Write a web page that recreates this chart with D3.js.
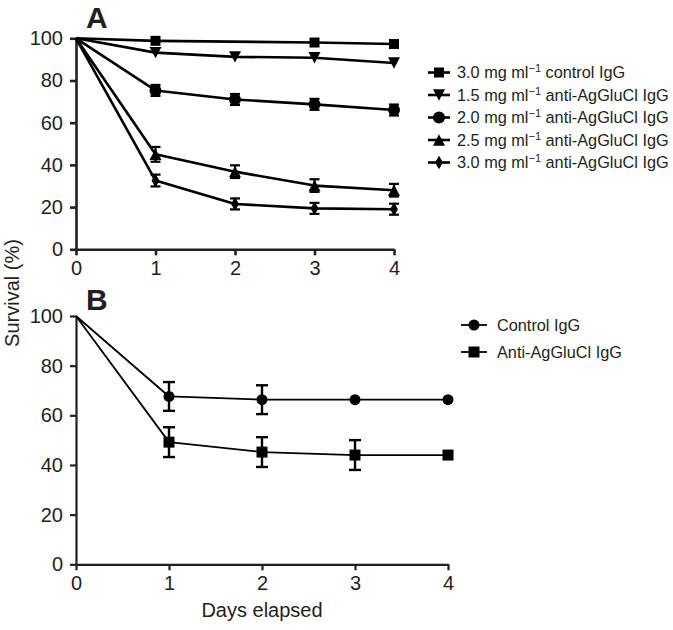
<!DOCTYPE html>
<html><head><meta charset="utf-8">
<script src="https://cdn.jsdelivr.net/npm/d3@7"></script>
<style>
body{margin:0;background:#fff;}
svg{display:block;font-family:"Liberation Sans",Arial,sans-serif;}
</style></head>
<body><svg id="c" width="673" height="630"></svg>
<script>
const days = [0, 1, 2, 3, 4];
const yTicks = [0, 20, 40, 60, 80, 100];

// Panel A series
const aLabels = ["3.0 mg ml", "1.5 mg ml", "2.0 mg ml", "2.5 mg ml", "3.0 mg ml"];
const aSuffix = [" control IgG", " anti-AgGluCl IgG", " anti-AgGluCl IgG", " anti-AgGluCl IgG", " anti-AgGluCl IgG"];
const aSymbols = ["square", "triDown", "circle", "triUp", "diamond"];
const aDays = [[0, 1, 3, 4], [0, 1, 2, 3, 4], [0, 1, 2, 3, 4], [0, 1, 2, 3, 4], [0, 1, 2, 3, 4]];
const aValues = [
  [100, 98.8, 98, 97.3],
  [100, 93.2, 91.2, 90.8, 88.3],
  [100, 75.3, 71, 68.7, 66],
  [100, 45, 36.8, 30.2, 28],
  [100, 32.6, 21.5, 19.4, 19]
];
const aErrors = [
  [0, 0, 0, 0],
  [0, 0, 0, 0, 0],
  [0, 2.6, 2.6, 2.6, 2.6],
  [0, 3.5, 3, 3, 3],
  [0, 2.8, 2.6, 2.6, 2.6]
];

// Panel B series
const bLabels = ["Control IgG", "Anti-AgGluCl IgG"];
const bSymbols = ["circle", "square"];
const bValues = [
  [100, 67.6, 66.3, 66.3, 66.3],
  [100, 49.2, 45.2, 44, 44]
];
const bErrors = [
  [0, 5.8, 5.8, 0, 0],
  [0, 6, 6, 6, 0]
];

const ink = "#231f20";
const svg = d3.select("#c");

function symPath(name, size) {
  const s = size;
  if (name === "triDown") {
    const h = s * 0.95;
    return `M${-s/2},${-h/2}L${s/2},${-h/2}L0,${h/2}Z`;
  }
  if (name === "triUp") {
    const h = s * 0.95;
    return `M${-s/2},${h/2}L${s/2},${h/2}L0,${-h/2}Z`;
  }
  if (name === "square") return d3.symbol(d3.symbolSquare, s * s)();
  if (name === "circle") return d3.symbol(d3.symbolCircle, Math.PI * s * s / 4)();
  if (name === "diamond") return d3.symbol(d3.symbolDiamond, s * s * 0.45)();
}

function panel(cfg) {
  const x = d3.scaleLinear().domain([0, 4]).range([cfg.x0, cfg.x1]);
  const y = d3.scaleLinear().domain([0, 100]).range([cfg.y0, cfg.y1]);
  const g = svg.append("g");

  const xa = g.append("g").attr("transform", `translate(0,${cfg.y0})`)
    .call(d3.axisBottom(x).tickValues(days).tickFormat(d3.format("d")).tickSize(6).tickSizeOuter(0).tickPadding(6));
  const ya = g.append("g").attr("transform", `translate(${cfg.x0},0)`)
    .call(d3.axisLeft(y).tickValues(yTicks).tickSize(6).tickSizeOuter(0).tickPadding(7));
  [xa, ya].forEach(a => {
    a.select(".domain").attr("stroke", ink).attr("stroke-width", cfg.axisW);
    a.selectAll(".tick line").attr("stroke", ink).attr("stroke-width", cfg.axisW);
    a.selectAll(".tick text").attr("fill", ink).attr("font-size", 20).attr("font-family", "Liberation Sans, Arial, sans-serif");
  });

  cfg.series.forEach(s => {
    const pts = s.days.map((d, i) => ({d, v: s.values[i], e: s.errors[i]}));
    g.append("path").datum(pts)
      .attr("fill", "none").attr("stroke", "#000").attr("stroke-width", cfg.lineW)
      .attr("stroke-linejoin", "round")
      .attr("d", d3.line().x(p => x(p.d)).y(p => y(p.v)));
    const eb = pts.filter(p => p.e > 0);
    eb.forEach(p => {
      const cx = x(p.d), top = y(p.v + p.e), bot = y(p.v - p.e);
      g.append("line").attr("x1", cx).attr("x2", cx).attr("y1", top).attr("y2", bot)
        .attr("stroke", "#000").attr("stroke-width", cfg.errW);
      [top, bot].forEach(yy => g.append("line").attr("x1", cx - cfg.cap).attr("x2", cx + cfg.cap)
        .attr("y1", yy).attr("y2", yy).attr("stroke", "#000").attr("stroke-width", cfg.errW));
    });
    g.selectAll(null).data(pts.filter(p => p.d > 0)).enter().append("path")
      .attr("transform", p => `translate(${x(p.d)},${y(p.v)})`)
      .attr("d", symPath(s.symbol, s.size)).attr("fill", "#000");
  });

  // title letter
  g.append("text").attr("x", cfg.x0 + 10).attr("y", cfg.titleY).text(cfg.title)
    .attr("font-size", 30).attr("font-weight", "bold").attr("fill", ink);

  // legend
  const lg = g.append("g");
  cfg.legend.forEach((l, i) => {
    const yy = cfg.legY + i * cfg.legStep;
    lg.append("line").attr("x1", cfg.legX0).attr("x2", cfg.legX1).attr("y1", yy).attr("y2", yy)
      .attr("stroke", "#000").attr("stroke-width", cfg.lineW);
    lg.append("path").attr("transform", `translate(${(cfg.legX0 + cfg.legX1) / 2},${yy})`)
      .attr("d", symPath(l.symbol, l.size)).attr("fill", "#000");
    const t = lg.append("text").attr("x", cfg.legTX).attr("y", yy + 5.5)
      .attr("font-size", 16.3).attr("fill", ink);
    t.append("tspan").text(l.label);
    if (l.sup) {
      t.append("tspan").text("\u22121").attr("font-size", 11).attr("dy", -6);
      t.append("tspan").text(l.suffix).attr("dy", 6);
    }
  });
}

panel({
  x0: 76, x1: 394, y0: 249.3, y1: 38.3, axisW: 2.6, lineW: 2.6, errW: 2.2, cap: 5,
  title: "A", titleY: 28,
  series: aValues.map((v, i) => ({days: aDays[i], values: v, errors: aErrors[i], symbol: aSymbols[i],
    size: aSymbols[i] === "diamond" ? 11 : (aSymbols[i] === "square" ? 10 : 12)})),
  legend: aLabels.map((l, i) => ({label: l, sup: true, suffix: aSuffix[i], symbol: aSymbols[i],
    size: aSymbols[i] === "diamond" ? 11 : (aSymbols[i] === "square" ? 10 : 12)})),
  legX0: 428, legX1: 450, legTX: 457, legY: 72.5, legStep: 22.5
});

panel({
  x0: 76, x1: 448, y0: 564.3, y1: 316, axisW: 2.2, lineW: 1.8, errW: 2.4, cap: 6,
  title: "B", titleY: 310,
  series: bValues.map((v, i) => ({days: days, values: v, errors: bErrors[i], symbol: bSymbols[i], size: 11})),
  legend: bLabels.map((l, i) => ({label: l, sup: false, symbol: bSymbols[i], size: 11})),
  legX0: 461, legX1: 487, legTX: 497, legY: 325, legStep: 27
});

svg.append("text").attr("transform", "translate(19,293) rotate(-90)")
  .attr("text-anchor", "middle").attr("font-size", 20).attr("fill", ink).text("Survival (%)");
svg.append("text").attr("x", 262).attr("y", 617)
  .attr("text-anchor", "middle").attr("font-size", 20).attr("fill", ink).text("Days elapsed");
</script></body></html>
